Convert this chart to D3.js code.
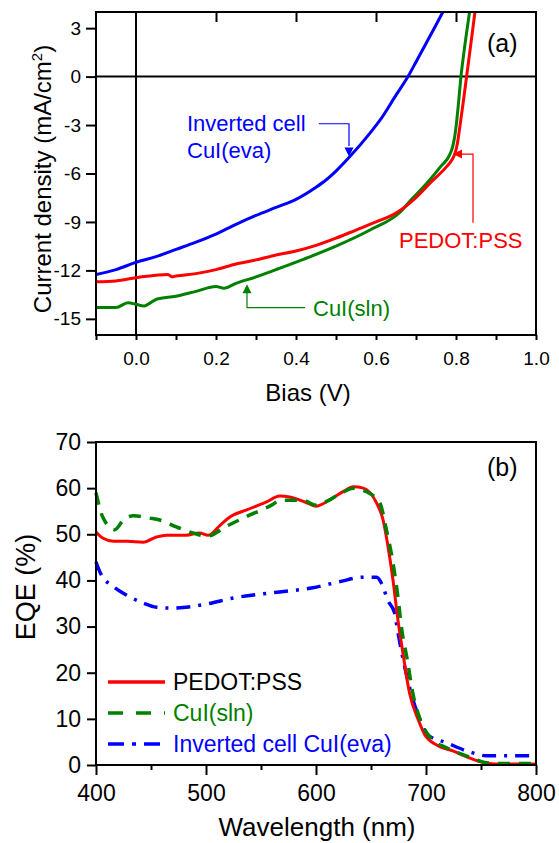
<!DOCTYPE html>
<html>
<head>
<meta charset="utf-8">
<script src="https://cdn.jsdelivr.net/npm/d3@7"></script>
<style>
  body { margin: 0; background: #fff; }
  text { font-family: "Liberation Sans", Arial, sans-serif; }
</style>
</head>
<body>
<script>
// ---- panel (a): J-V curves ----
var pedotV = [-0.1, -0.05, 0, 0.05, 0.08, 0.09, 0.1, 0.15, 0.2, 0.25, 0.3, 0.35, 0.4, 0.45, 0.5, 0.55, 0.6, 0.65, 0.695, 0.735, 0.777, 0.79, 0.7975, 0.803, 0.808, 0.813, 0.818, 0.827, 0.838, 0.85, 0.86];
var pedotJ = [-12.7, -12.65, -12.45, -12.3, -12.25, -12.4, -12.35, -12.2, -11.95, -11.6, -11.35, -11.05, -10.8, -10.45, -10.0, -9.5, -9.0, -8.45, -7.6, -6.6, -5.56, -5.15, -4.75, -4.2, -3.4, -2.5, -1.6, 0.1, 2.2, 4.5, 6.5];

var slnV = [-0.1, -0.05, -0.02, 0, 0.02, 0.05, 0.1, 0.15, 0.2, 0.22, 0.25, 0.3, 0.35, 0.42, 0.5, 0.585, 0.66, 0.689, 0.727, 0.762, 0.785, 0.792, 0.7975, 0.802, 0.806, 0.812, 0.8225, 0.835, 0.85];
var slnJ = [-14.3, -14.3, -14.0, -14.1, -14.2, -13.8, -13.6, -13.3, -13.0, -13.1, -12.8, -12.4, -11.95, -11.3, -10.5, -9.5, -8.4, -7.6, -6.6, -5.56, -4.8, -4.3, -3.6, -2.7, -1.7, -0.1, 2.0, 4.2, 7.0];

var invV = [-0.1, -0.05, 0, 0.05, 0.1, 0.15, 0.2, 0.25, 0.3, 0.35, 0.4, 0.45, 0.475, 0.5, 0.533, 0.585, 0.61, 0.65, 0.68, 0.7, 0.75, 0.78];
var invJ = [-12.25, -11.95, -11.5, -11.15, -10.7, -10.25, -9.75, -9.15, -8.6, -8.1, -7.6, -6.85, -6.4, -5.85, -5.0, -3.5, -2.7, -1.15, 0, 0.9, 3.2, 4.6];

var biasTicks = [-0.1, 0, 0.1, 0.2, 0.3, 0.4, 0.5, 0.6, 0.7, 0.8, 0.9, 1.0];
var currentTicks = [-15, -12, -9, -6, -3, 0, 3];

// ---- panel (b): EQE spectra ----
var pedotWl = [400, 406, 416, 428, 443, 455, 464, 482, 494, 502, 513, 522, 537, 555, 567, 576, 590, 600, 612, 625, 634, 643, 655, 661, 665, 670, 674.5, 679, 685, 693, 699, 710, 725, 740, 755, 770, 800];
var pedotEqe = [50.5, 49.2, 48.5, 48.5, 48.3, 49.4, 49.8, 49.8, 50.3, 49.8, 52.0, 53.8, 55.3, 57.0, 58.3, 58.1, 57.0, 56.1, 57.4, 59.3, 60.3, 60.0, 56.8, 53.1, 48.0, 40.1, 31.4, 24.3, 15.6, 9.8, 6.5, 4.3, 3.0, 1.5, 0.4, 0.2, 0.2];

var slnWl = [400, 406, 417, 425, 434, 449, 458, 473, 488, 501, 519, 540, 561, 567, 588, 600, 612, 625, 634, 646, 658, 664, 670, 674.5, 678, 683, 688, 696, 704, 719, 740, 755, 770, 800];
var slnEqe = [59.0, 53.8, 51.0, 53.1, 54.0, 53.5, 53.1, 51.6, 50.3, 49.6, 51.8, 54.2, 56.5, 57.4, 57.4, 56.3, 57.4, 59.2, 60.0, 59.2, 56.8, 51.0, 43.8, 36.4, 29.3, 22.8, 15.6, 9.1, 5.9, 3.7, 1.7, 0.5, 0.3, 0.3];

var invWl = [400, 404, 416, 428, 443, 455, 470, 482, 501, 525, 552, 567, 597, 621, 643, 655, 661, 665, 671.6, 673.6, 678, 684, 692, 702, 719, 740, 755, 770, 800];
var invEqe = [44.0, 41.6, 38.6, 36.8, 35.1, 34.2, 34.0, 34.2, 34.9, 36.2, 37.1, 37.5, 38.4, 39.7, 40.7, 40.7, 38.6, 35.8, 32.9, 30.0, 24.3, 17.8, 11.3, 6.5, 4.8, 2.8, 2.0, 2.0, 2.0];

var wlTicks = [400, 500, 600, 700, 800];
var wlMinor = [450, 550, 650, 750];
var eqeTicks = [0, 10, 20, 30, 40, 50, 60, 70];

var legendNames = ["PEDOT:PSS", "CuI(sln)", "Inverted cell CuI(eva)"];

var width = 559, height = 843;
var font = '"Liberation Sans", Arial, sans-serif';

var svg = d3.select("body").append("svg")
  .attr("width", width)
  .attr("height", height);

function zip(xs, ys) { return xs.map(function(x, i) { return [x, ys[i]]; }); }

function styleAxis(g, size) {
  g.attr("font-family", font).attr("font-size", size);
  g.select(".domain").remove();
  g.selectAll(".tick line").attr("stroke", "#000").attr("stroke-width", 2);
  g.selectAll(".tick text").attr("fill", "#000");
}

// =================== panel (a) ===================
var a = { left: 96, right: 536, top: 12, bottom: 335 };
var xA = d3.scaleLinear().domain([-0.1, 1.0]).range([a.left, a.right]);
var yA = d3.scaleLinear().domain([-16, 4]).range([a.bottom, a.top]);

svg.append("clipPath").attr("id", "clipA")
  .append("rect")
  .attr("x", a.left).attr("y", a.top)
  .attr("width", a.right - a.left).attr("height", a.bottom - a.top);

var gxA = svg.append("g")
  .attr("transform", "translate(0," + a.bottom + ")")
  .call(d3.axisBottom(xA).tickValues(biasTicks).tickSize(5).tickPadding(12)
    .tickFormat(function(d) { return Math.round(d * 10) % 2 === 0 ? d.toFixed(1) : ""; }));
styleAxis(gxA, 19);

var gxA2 = svg.append("g")
  .attr("transform", "translate(0," + a.top + ")")
  .call(d3.axisBottom(xA).tickValues([0.2, 0.4, 0.6, 0.8]).tickSize(10).tickFormat(""));
styleAxis(gxA2, 19);

var gyA = svg.append("g")
  .attr("transform", "translate(" + a.left + ",0)")
  .call(d3.axisLeft(yA).tickValues(currentTicks).tickSize(10).tickPadding(5)
    .tickFormat(function(d) { return String(d); }));
styleAxis(gyA, 19);

// zero lines
svg.append("line")
  .attr("x1", a.left).attr("x2", a.right)
  .attr("y1", yA(0)).attr("y2", yA(0))
  .attr("stroke", "#000").attr("stroke-width", 2);
svg.append("line")
  .attr("x1", xA(0)).attr("x2", xA(0))
  .attr("y1", a.top).attr("y2", a.bottom)
  .attr("stroke", "#000").attr("stroke-width", 2);

var lineA = d3.line()
  .x(function(d) { return xA(d[0]); })
  .y(function(d) { return yA(d[1]); })
  .curve(d3.curveMonotoneX);

var jvSeries = [
  { pts: zip(invV, invJ), color: "#0000ff" },
  { pts: zip(slnV, slnJ), color: "#008000" },
  { pts: zip(pedotV, pedotJ), color: "#ff0000" }
];

svg.append("g").attr("clip-path", "url(#clipA)")
  .selectAll("path")
  .data(jvSeries)
  .enter().append("path")
  .attr("d", function(d) { return lineA(d.pts); })
  .attr("fill", "none")
  .attr("stroke", function(d) { return d.color; })
  .attr("stroke-width", 3);

svg.append("rect")
  .attr("x", a.left).attr("y", a.top)
  .attr("width", a.right - a.left).attr("height", a.bottom - a.top)
  .attr("fill", "none").attr("stroke", "#000").attr("stroke-width", 2);

svg.append("text")
  .attr("x", 308).attr("y", 401)
  .attr("text-anchor", "middle").attr("font-size", 24)
  .text("Bias (V)");

var yTitleA = svg.append("text")
  .attr("transform", "translate(51,179) rotate(-90)")
  .attr("text-anchor", "middle").attr("font-size", 24);
yTitleA.append("tspan").text("Current density (mA/cm");
yTitleA.append("tspan").attr("font-size", 15).attr("dy", -9).text("2");
yTitleA.append("tspan").attr("dy", 9).text(")");

svg.append("text")
  .attr("x", 487).attr("y", 52)
  .attr("font-size", 25).text("(a)");

// annotations (positions in data units)
function arrowHead(tip, dir, color) {
  var s = 4.5, l = 9, p;
  if (dir === "down") p = [[tip[0], tip[1]], [tip[0] - s, tip[1] - l], [tip[0] + s, tip[1] - l]];
  if (dir === "up") p = [[tip[0], tip[1]], [tip[0] - s, tip[1] + l], [tip[0] + s, tip[1] + l]];
  if (dir === "left") p = [[tip[0], tip[1]], [tip[0] + l, tip[1] - s], [tip[0] + l, tip[1] + s]];
  svg.append("path").attr("d", "M" + p.join("L") + "Z").attr("fill", color);
}
function polyline(pts, color) {
  svg.append("path")
    .attr("d", d3.line()(pts.map(function(q) { return [xA(q[0]), yA(q[1])]; })))
    .attr("fill", "none").attr("stroke", color).attr("stroke-width", 1.2);
}

// inverted cell
svg.append("text").attr("x", xA(0.1275)).attr("y", yA(-3.35))
  .attr("font-size", 22).attr("fill", "#0000ff").text("Inverted cell");
svg.append("text").attr("x", xA(0.1275)).attr("y", yA(-5.05))
  .attr("font-size", 22).attr("fill", "#0000ff").text("CuI(eva)");
polyline([[0.457, -2.92], [0.5325, -2.92], [0.5325, -4.3]], "#0000ff");
arrowHead([xA(0.5325), yA(-4.95)], "down", "#0000ff");

// PEDOT:PSS
svg.append("text").attr("x", xA(0.6575)).attr("y", yA(-10.6))
  .attr("font-size", 22).attr("fill", "#ff0000").text("PEDOT:PSS");
polyline([[0.8425, -9.05], [0.8425, -4.8], [0.815, -4.8]], "#ff0000");
arrowHead([xA(0.7925), yA(-4.8)], "left", "#ff0000");

// CuI(sln)
svg.append("text").attr("x", xA(0.4425)).attr("y", yA(-14.85))
  .attr("font-size", 22).attr("fill", "#008000").text("CuI(sln)");
polyline([[0.4225, -14.3], [0.2775, -14.3], [0.2775, -13.4]], "#008000");
arrowHead([xA(0.2775), yA(-12.85)], "up", "#008000");

// =================== panel (b) ===================
var b = { left: 96, right: 536, top: 442, bottom: 765 };
var xB = d3.scaleLinear().domain([400, 800]).range([b.left, b.right]);
var yB = d3.scaleLinear().domain([0, 70]).range([b.bottom, b.top]);

var gxB = svg.append("g")
  .attr("transform", "translate(0," + b.bottom + ")")
  .call(d3.axisBottom(xB).tickValues(wlTicks).tickSize(10).tickPadding(10)
    .tickFormat(function(d) { return String(d); }));
styleAxis(gxB, 23);

var gxBm = svg.append("g")
  .attr("transform", "translate(0," + b.bottom + ")")
  .call(d3.axisBottom(xB).tickValues(wlMinor).tickSize(5).tickFormat(""));
styleAxis(gxBm, 23);

var gyB = svg.append("g")
  .attr("transform", "translate(" + b.left + ",0)")
  .call(d3.axisLeft(yB).tickValues(eqeTicks).tickSize(9).tickPadding(6)
    .tickFormat(function(d) { return String(d); }));
styleAxis(gyB, 23);

var lineB = d3.line()
  .x(function(d) { return xB(d[0]); })
  .y(function(d) { return yB(d[1]); })
  .curve(d3.curveMonotoneX);

var eqeSeries = [
  { pts: zip(invWl, invEqe), color: "#0000ff", dash: "14,8,3,8", w: 3.5 },
  { pts: zip(pedotWl, pedotEqe), color: "#ff0000", dash: null, w: 3 },
  { pts: zip(slnWl, slnEqe), color: "#008000", dash: "12,9", w: 3.5 }
];

svg.append("g")
  .selectAll("path")
  .data(eqeSeries)
  .enter().append("path")
  .attr("d", function(d) { return lineB(d.pts); })
  .attr("fill", "none")
  .attr("stroke", function(d) { return d.color; })
  .attr("stroke-width", function(d) { return d.w; })
  .attr("stroke-dasharray", function(d) { return d.dash; });

svg.append("rect")
  .attr("x", b.left).attr("y", b.top)
  .attr("width", b.right - b.left).attr("height", b.bottom - b.top)
  .attr("fill", "none").attr("stroke", "#000").attr("stroke-width", 2);

svg.append("text")
  .attr("x", 317).attr("y", 836)
  .attr("text-anchor", "middle").attr("font-size", 26)
  .text("Wavelength (nm)");

svg.append("text")
  .attr("transform", "translate(35,587) rotate(-90)")
  .attr("text-anchor", "middle").attr("font-size", 27)
  .text("EQE (%)");

svg.append("text")
  .attr("x", 487).attr("y", 476)
  .attr("font-size", 25).text("(b)");

// legend
var legend = [
  { name: legendNames[0], color: "#ff0000", text: "#000", dash: null, y: 682 },
  { name: legendNames[1], color: "#008000", text: "#008000", dash: "15,13", y: 713 },
  { name: legendNames[2], color: "#0000ff", text: "#0000ff", dash: "16,8,4,8", y: 744 }
];
var lg = svg.append("g").selectAll("g").data(legend).enter().append("g");
lg.append("line")
  .attr("x1", 108).attr("x2", 165)
  .attr("y1", function(d) { return d.y; }).attr("y2", function(d) { return d.y; })
  .attr("stroke", function(d) { return d.color; })
  .attr("stroke-width", 3.5)
  .attr("stroke-dasharray", function(d) { return d.dash; });
lg.append("text")
  .attr("x", 173).attr("y", function(d) { return d.y + 8; })
  .attr("font-size", 23)
  .attr("fill", function(d) { return d.text; })
  .text(function(d) { return d.name; });
</script>
</body>
</html>
